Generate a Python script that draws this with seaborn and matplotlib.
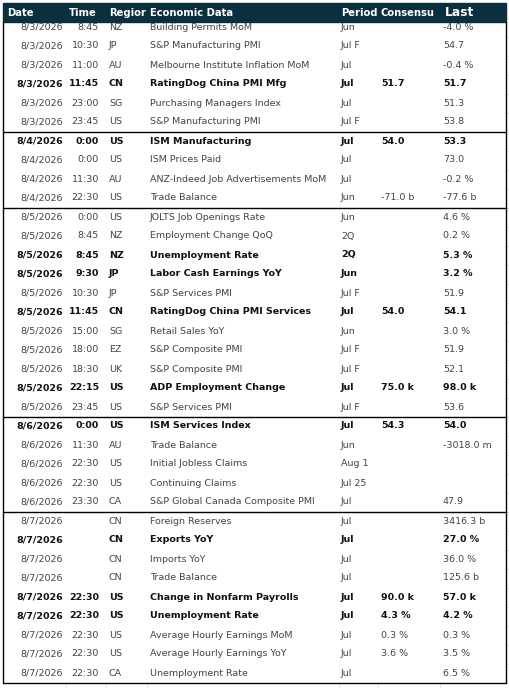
import matplotlib
matplotlib.use("Agg")
import matplotlib.pyplot as plt
import matplotlib.transforms as mtransforms
import seaborn as sns

dates = ["8/3/2026"] * 6 + ["8/4/2026"] * 4 + ["8/5/2026"] * 11 + ["8/6/2026"] * 5 + ["8/7/2026"] * 9
times = ["8:45", "10:30", "11:00", "11:45", "23:00", "23:45",
         "0:00", "0:00", "11:30", "22:30",
         "0:00", "8:45", "8:45", "9:30", "10:30", "11:45", "15:00", "18:00", "18:30", "22:15", "23:45",
         "0:00", "11:30", "22:30", "22:30", "23:30",
         "", "", "", "", "22:30", "22:30", "22:30", "22:30", "22:30"]
regions = ["NZ", "JP", "AU", "CN", "SG", "US",
           "US", "US", "AU", "US",
           "US", "NZ", "NZ", "JP", "JP", "CN", "SG", "EZ", "UK", "US", "US",
           "US", "AU", "US", "US", "CA",
           "CN", "CN", "CN", "CN", "US", "US", "US", "US", "CA"]
events = ["Building Permits MoM", "S&P Manufacturing PMI", "Melbourne Institute Inflation MoM",
          "RatingDog China PMI Mfg", "Purchasing Managers Index", "S&P Manufacturing PMI",
          "ISM Manufacturing", "ISM Prices Paid", "ANZ-Indeed Job Advertisements MoM", "Trade Balance",
          "JOLTS Job Openings Rate", "Employment Change QoQ", "Unemployment Rate", "Labor Cash Earnings YoY",
          "S&P Services PMI", "RatingDog China PMI Services", "Retail Sales YoY", "S&P Composite PMI",
          "S&P Composite PMI", "ADP Employment Change", "S&P Services PMI",
          "ISM Services Index", "Trade Balance", "Initial Jobless Claims", "Continuing Claims",
          "S&P Global Canada Composite PMI",
          "Foreign Reserves", "Exports YoY", "Imports YoY", "Trade Balance", "Change in Nonfarm Payrolls",
          "Unemployment Rate", "Average Hourly Earnings MoM", "Average Hourly Earnings YoY", "Unemployment Rate"]
periods = ["Jun", "Jul F", "Jul", "Jul", "Jul", "Jul F",
           "Jul", "Jul", "Jul", "Jun",
           "Jun", "2Q", "2Q", "Jun", "Jul F", "Jul", "Jun", "Jul F", "Jul F", "Jul", "Jul F",
           "Jul", "Jun", "Aug 1", "Jul 25", "Jul",
           "Jul", "Jul", "Jul", "Jul", "Jul", "Jul", "Jul", "Jul", "Jul"]
consensus = ["", "", "", "51.7", "", "",
             "54.0", "", "", "-71.0 b",
             "", "", "", "", "", "54.0", "", "", "", "75.0 k", "",
             "54.3", "", "", "", "",
             "", "", "", "", "90.0 k", "4.3 %", "0.3 %", "3.6 %", ""]
last = ["-4.0 %", "54.7", "-0.4 %", "51.7", "51.3", "53.8",
        "53.3", "73.0", "-0.2 %", "-77.6 b",
        "4.6 %", "0.2 %", "5.3 %", "3.2 %", "51.9", "54.1", "3.0 %", "51.9", "52.1", "98.0 k", "53.6",
        "54.0", "-3018.0 m", "", "", "47.9",
        "3416.3 b", "27.0 %", "36.0 %", "125.6 b", "57.0 k", "4.2 %", "0.3 %", "3.5 %", "6.5 %"]
bold = [3, 6, 12, 13, 15, 19, 21, 27, 30, 31]
group_ends = [6, 10, 21, 26, 35]

sns.set_theme(style="white")
plt.rcParams["font.family"] = ["DejaVu Sans"]

fig = plt.figure(figsize=(5.1, 6.88), dpi=100)
ax = fig.add_axes([0, 0, 1, 1])
ax.set_xlim(0, 510)
ax.set_ylim(688, 0)
ax.axis("off")

row_h = 19
y0 = 27

# faint spreadsheet grid outside the table
for i in range(37):
    yy = 18 + row_h * i
    ax.plot([506, 510], [yy, yy], color="#e0e0e0", lw=0.6, zorder=0)
for gx in [66, 106, 147, 339, 378, 440]:
    ax.plot([gx, gx], [683, 688], color="#e0e0e0", lw=0.6, zorder=0)

# header band
ax.add_patch(plt.Rectangle((3, 3), 503, 19, color="#0c2f40", zorder=2))
hdr = [("Date", 7), ("Time", 69), ("Regior", 109), ("Economic Data", 150),
       ("Period", 341), ("Consensu", 381)]
for t, x in hdr:
    ax.text(x, 13, t, color="white", fontsize=7.2, fontweight="bold", va="center", zorder=3)
ax.text(445, 12, "Last", color="white", fontsize=8.8, fontweight="bold", va="center", zorder=3)

clip = mtransforms.Bbox.from_extents(0, 0, 339, 688)
for i in range(len(events)):
    y = y0 + i * row_h
    fw = "bold" if i in bold else "normal"
    c = "#111111" if i in bold else "#444444"
    kw = dict(fontsize=6.8, fontweight=fw, color=c, va="center", zorder=3)
    ax.text(63, y, dates[i], ha="right", **kw)
    ax.text(99, y, times[i], ha="right", **kw)
    ax.text(109, y, regions[i], **kw)
    t = ax.text(150, y, events[i], **kw)
    t.set_clip_on(True)
    t.set_clip_box(clip)
    ax.text(341, y, periods[i], **kw)
    ax.text(381, y, consensus[i], **kw)
    ax.text(443, y, last[i], **kw)

# group borders
top = 22
for end in group_ends:
    yb = 18 + end * row_h
    ax.plot([3, 3], [top, yb], color="black", lw=1.0, zorder=4)
    ax.plot([506, 506], [top, yb], color="black", lw=1.0, zorder=4)
    ax.plot([3, 506], [yb, yb], color="black", lw=1.0, zorder=4)
    top = yb

fig.savefig("out.png", dpi=100)
